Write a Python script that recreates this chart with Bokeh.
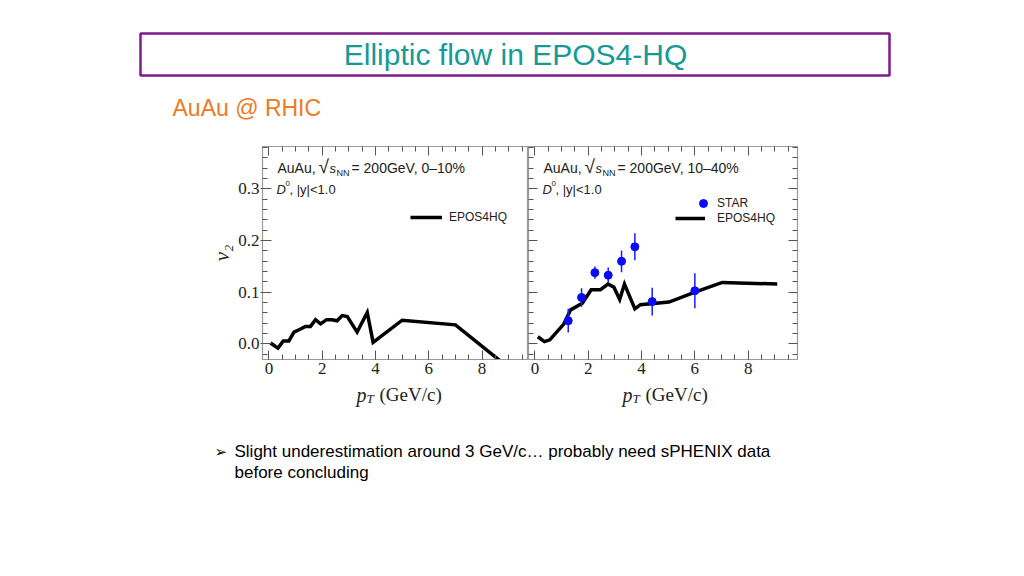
from bokeh.plotting import figure
from bokeh.layouts import column, row
from bokeh.models import (Range1d, Spacer, Label, LinearAxis, SingleIntervalTicker,
                          FixedTicker, PrintfTickFormatter, Legend, LegendItem)
from bokeh.core.properties import value
from bokeh.embed import file_html
from bokeh.resources import INLINE

# ---------------- data ----------------
pt_central = [0.06, 0.34, 0.54, 0.75, 0.94, 1.19, 1.37, 1.56, 1.75, 1.94, 2.16,
              2.37, 2.56, 2.75, 2.94, 3.31, 3.69, 3.91, 5.0, 7.0, 9.0]
v2_central = [0.002, -0.008, 0.006, 0.006, 0.023, 0.029, 0.034, 0.034, 0.047, 0.039, 0.047,
              0.047, 0.045, 0.055, 0.053, 0.023, 0.061, 0.003, 0.046, 0.037, -0.046]

pt_mid = [0.11, 0.36, 0.56, 1.09, 1.34, 1.78, 2.11, 2.46, 2.74, 2.96, 3.18, 3.36,
          3.75, 3.96, 5.03, 6.03, 7.03, 9.09]
v2_mid = [0.014, 0.0045, 0.008, 0.039, 0.066, 0.079, 0.105, 0.105, 0.116, 0.110, 0.086, 0.116,
          0.068, 0.076, 0.081, 0.101, 0.119, 0.116]

star_pt = [1.25, 1.75, 2.25, 2.75, 3.25, 3.75, 4.4, 6.0]
star_v2 = [0.045, 0.090, 0.138, 0.133, 0.160, 0.188, 0.082, 0.103]
star_err = [0.023, 0.018, 0.012, 0.015, 0.021, 0.026, 0.027, 0.034]

x_major_ticks = [0, 2, 4, 6, 8]
x_minor_ticks = [0.5, 1.0, 1.5, 2.5, 3.0, 3.5, 4.5, 5.0, 5.5, 6.5, 7.0, 7.5, 8.5, 9.0, 9.5]
y_major_ticks = [0.0, 0.1, 0.2, 0.3]
y_minor_ticks = [-0.02, 0.02, 0.04, 0.06, 0.08, 0.12, 0.14, 0.16, 0.18,
                 0.22, 0.24, 0.26, 0.28, 0.32, 0.34, 0.36, 0.38]

title_text = "Elliptic flow in EPOS4-HQ"
subtitle_text = "AuAu @ RHIC"
y_label = "v\u2082"
bullet_lines = ["Slight underestimation around 3 GeV/c\u2026 probably need sPHENIX data",
                "before concluding"]

SANS = "Liberation Sans"
SERIF = "Liberation Serif"
FRAME = "#9a9a9a"
TICK = "#555555"
TXT = "#222222"


def blank_fig(w, h):
    p = figure(width=w, height=h, output_backend="svg", toolbar_location=None,
               x_range=Range1d(0, w), y_range=Range1d(h, 0), min_border=0)
    p.xaxis.visible = False
    p.yaxis.visible = False
    p.grid.visible = False
    p.outline_line_color = None
    return p


# ---------------- header (page y 0..138) ----------------
header = blank_fig(1024, 138)
header.quad(left=[140], right=[889], top=[33], bottom=[75], fill_color=None,
            line_color="#7d1a8c", line_width=2.5)
header.text(x=[515], y=[54], text=[title_text], text_font=value(SANS),
            text_font_size="30px", text_color="#169a97", text_align="center",
            text_baseline="middle")
header.text(x=[172], y=[107], text=[subtitle_text], text_font=value(SANS),
            text_font_size="23px", text_color="#ef7a24", text_align="left",
            text_baseline="middle")

# ---------------- footer (page y 383..576) ----------------
footer = blank_fig(1024, 193)
for off in (0, 266):
    footer.text(x=[356 + off], y=[11], text=["p"], text_font=value(SERIF),
                text_font_style="italic", text_font_size="20px", text_color=TXT,
                text_baseline="middle")
    footer.text(x=[366 + off], y=[15], text=["T"], text_font=value(SERIF),
                text_font_style="italic", text_font_size="13px", text_color=TXT,
                text_baseline="middle")
    footer.text(x=[379 + off], y=[11], text=["(GeV/c)"], text_font=value(SERIF),
                text_font_size="19px", text_color=TXT, text_baseline="middle")
footer.text(x=[214], y=[68], text=["\u27a2"], text_font=value("DejaVu Sans"),
            text_font_size="15px", text_color="#000000", text_baseline="middle")
footer.text(x=[234, 234], y=[68, 89], text=bullet_lines, text_font=value(SANS),
            text_font_size="17px", text_color="#000000", text_baseline="middle")


# ---------------- panels ----------------
def mirror_axis(p, side, positions, tick_len):
    ax = LinearAxis(ticker=FixedTicker(ticks=[], minor_ticks=positions))
    ax.axis_line_color = None
    ax.minor_tick_line_color = TICK
    ax.minor_tick_in = tick_len
    ax.minor_tick_out = 0
    ax.major_tick_out = 0
    ax.major_tick_in = 0
    ax.major_label_standoff = 0
    p.add_layout(ax, side)


def make_panel(fw, xr, left_labels, mb_left, mb_right):
    p = figure(frame_width=fw, frame_height=213, output_backend="svg",
               toolbar_location=None, x_range=Range1d(*xr),
               y_range=Range1d(-0.030, 0.382), min_border_left=mb_left,
               min_border_right=mb_right, min_border_top=8, min_border_bottom=24,
               x_axis_location=None, y_axis_location=None)
    p.grid.visible = False
    p.outline_line_color = FRAME
    p.outline_line_width = 1.2

    xb = LinearAxis(ticker=SingleIntervalTicker(interval=2, num_minor_ticks=4))
    xb.axis_line_color = FRAME
    xb.major_tick_line_color = TICK
    xb.minor_tick_line_color = TICK
    xb.major_tick_in = 9
    xb.major_tick_out = 0
    xb.minor_tick_in = 5
    xb.minor_tick_out = 0
    xb.major_label_standoff = 3
    xb.major_label_text_font = SERIF
    xb.major_label_text_font_size = "17px"
    xb.major_label_text_color = TXT
    p.add_layout(xb, "below")

    if left_labels:
        yl = LinearAxis(ticker=SingleIntervalTicker(interval=0.1, num_minor_ticks=5),
                        formatter=PrintfTickFormatter(format="%.1f"),
                        axis_label=y_label)
        yl.axis_line_color = FRAME
        yl.major_tick_line_color = TICK
        yl.minor_tick_line_color = TICK
        yl.major_tick_in = 9
        yl.major_tick_out = 2
        yl.minor_tick_in = 5
        yl.minor_tick_out = 0
        yl.major_label_standoff = 1
        yl.major_label_text_font = SERIF
        yl.major_label_text_font_size = "17px"
        yl.major_label_text_color = TXT
        yl.axis_label_text_font = SERIF
        yl.axis_label_text_font_style = "italic"
        yl.axis_label_text_font_size = "21px"
        yl.axis_label_text_color = TXT
        yl.axis_label_standoff = 1
        p.add_layout(yl, "left")
    else:
        mirror_axis(p, "left", y_major_ticks, 9)
        mirror_axis(p, "left", y_minor_ticks, 5)

    mirror_axis(p, "above", x_major_ticks, 9)
    mirror_axis(p, "above", x_minor_ticks, 5)
    if not left_labels:
        mirror_axis(p, "right", y_major_ticks, 9)
        mirror_axis(p, "right", y_minor_ticks, 5)
    return p


def add_texts(p, centrality):
    def lab(text, x, y, size, style="normal"):
        p.add_layout(Label(x=x, y=y, x_units="screen", y_units="screen", text=text,
                           text_font=SANS, text_font_size=size, text_font_style=style,
                           text_color=TXT, text_baseline="middle"))
    lab("AuAu,", 15, 192, "14px")
    lab("\u221a", 56, 193, "19px")
    lab("s", 67, 191, "13px", style="italic")
    lab("NN", 74, 187, "9px")
    lab("= 200GeV, " + centrality, 89, 192, "14px")
    lab("D", 14, 170, "13px", style="italic")
    lab("0", 23, 176, "8px")
    lab(", |y|<1.0", 27, 170, "13px")


def legend(items, loc, gw, gh, standoff):
    return Legend(items=items, location=loc, glyph_width=gw, glyph_height=gh,
                  label_standoff=standoff, padding=0, margin=0, spacing=0,
                  background_fill_alpha=0, border_line_alpha=0, label_text_font=SANS,
                  label_text_font_size="12px", label_text_color=TXT)


# left panel: 0-10%
pl = make_panel(266, (-0.24, 9.74), True, 62, 0)
rl = pl.line(pt_central, v2_central, line_color="black", line_width=3.5,
             line_join="miter")
add_texts(pl, "0\u201310%")
pl.add_layout(legend([LegendItem(label="EPOS4HQ", renderers=[rl])], (148, 135), 32, 14, 7))

# right panel: 10-40%
pr = make_panel(269, (-0.24, 9.85), False, 0, 5)
rr = pr.line(pt_mid, v2_mid, line_color="black", line_width=3.5, line_join="miter")
lo = [v - e for v, e in zip(star_v2, star_err)]
hi = [v + e for v, e in zip(star_v2, star_err)]
pr.segment(x0=star_pt, y0=lo, x1=star_pt, y1=hi, line_color="#1a1aff", line_width=1.5)
rs = pr.scatter(star_pt, star_v2, size=8, marker="circle", fill_color="#0a0aff",
                line_color="#0a0aff")
add_texts(pr, "10\u201340%")
pr.add_layout(legend([LegendItem(label="STAR", renderers=[rs])], (165, 146), 20, 20, 4))
pr.add_layout(legend([LegendItem(label="EPOS4HQ", renderers=[rr])], (147, 134), 30, 14, 12))

layout = column(header, row(Spacer(width=200, height=245), pl, pr), footer)

open("out.html", "w").write(file_html(layout, INLINE))
